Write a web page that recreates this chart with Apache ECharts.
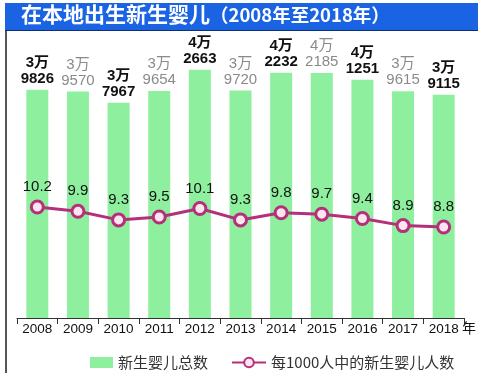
<!DOCTYPE html>
<html><head><meta charset="utf-8">
<script src="https://cdn.jsdelivr.net/npm/echarts@6/dist/echarts.min.js"></script>
<style>html,body{margin:0;padding:0;background:#fff}#c{width:478px;height:377px}</style>
</head><body><div id="c"></div>
<script>
const years = ['2008','2009','2010','2011','2012','2013','2014','2015','2016','2017','2018'];
const births = [39826, 39570, 37967, 39654, 42663, 39720, 42232, 42185, 41251, 39615, 39115];
const rate = [10.2, 9.9, 9.3, 9.5, 10.1, 9.3, 9.8, 9.7, 9.4, 8.9, 8.8];
const seriesNames = ['新生婴儿总数', '每1000人中的新生婴儿人数'];
const titleMain = '在本地出生新生婴儿';
const titleSub = '（2008年至2018年）';

const chart = echarts.init(document.getElementById('c'));
const font = '"Noto Sans CJK SC", "Noto Sans", sans-serif';
const numFont = '"Liberation Sans", Arial, "Noto Sans CJK SC", sans-serif';
chart.setOption({
  animation: false,
  textStyle: {fontFamily: font},
  graphic: [
    {type: 'rect', shape: {x: 5, y: 3, width: 473, height: 27}, style: {fill: '#1a64e4'}, z: 10},
    {type: 'rect', shape: {x: 5, y: 30, width: 473, height: 1}, style: {fill: '#0d2f6e'}, z: 10},
    {type: 'rect', shape: {x: 5, y: 31, width: 2, height: 342}, style: {fill: '#555'}, z: 10},
    {type: 'text', left: 21, top: 4, z: 11, style: {
      text: '{a|' + titleMain + '}{b|' + titleSub + '}',
      rich: {
        a: {fontSize: 21, fontWeight: 'bold', fill: '#fff', fontFamily: font},
        b: {fontSize: 18.5, fontWeight: 'bold', fill: '#fff', fontFamily: font}
      }
    }},
    {type: 'text', left: 462, top: 321, z: 11, style: {text: '年', fontSize: 14, fill: '#111', fontFamily: font}}
  ],
  legend: [
    {
      top: 350, left: 85, itemWidth: 23, itemHeight: 11,
      textStyle: {fontSize: 15, color: '#333', fontFamily: font},
      data: [{name: seriesNames[0], icon: 'rect'}]
    },
    {
      top: 350, left: 226, itemWidth: 34, itemHeight: 12,
      textStyle: {fontSize: 15, color: '#333', fontFamily: font},
      data: [{name: seriesNames[1]}]
    }
  ],
  grid: {left: 17, right: 14, top: 35, bottom: 59},
  xAxis: {
    type: 'category', data: years,
    axisLine: {lineStyle: {color: '#333', width: 1}},
    axisTick: {show: true, length: 6, lineStyle: {color: '#333'}},
    axisLabel: {fontSize: 13.5, color: '#111', margin: 5, fontFamily: numFont}
  },
  yAxis: [
    {type: 'value', min: 7400, max: 47600, show: false, splitLine: {show: false}},
    {type: 'value', min: 2.44, max: 22.23, show: false, splitLine: {show: false}}
  ],
  series: [
    {
      name: seriesNames[0], type: 'bar', barWidth: 22, yAxisIndex: 0,
      itemStyle: {color: '#8ef09e'},
      data: births.map((v, i) => ({
        value: v,
        label: {color: i % 2 ? '#8a8a8a' : '#111', fontWeight: i % 2 ? 'normal' : 'bold'}
      })),
      label: {
        show: true, position: 'top', distance: 3, fontSize: 15, lineHeight: 16, fontFamily: numFont,
        formatter: p => Math.floor(p.value / 10000) + '万\n' + String(p.value % 10000).padStart(4, '0')
      }
    },
    {
      name: seriesNames[1], type: 'line', yAxisIndex: 1,
      data: rate,
      symbol: 'circle', symbolSize: 12,
      lineStyle: {color: '#b5307a', width: 3},
      itemStyle: {color: '#fbe6f0', borderColor: '#b5307a', borderWidth: 3},
      label: {show: true, position: 'top', distance: 5, fontSize: 15, color: '#111', fontFamily: numFont},
      z: 5
    }
  ]
});
</script></body></html>
